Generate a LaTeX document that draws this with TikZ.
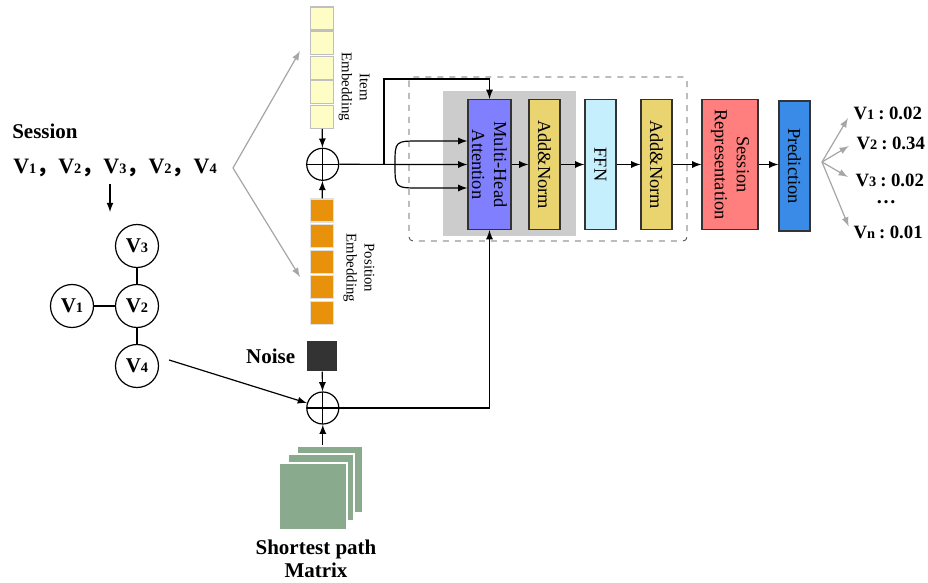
\documentclass[tikz,border=0pt]{standalone}
\usepackage{fontspec}
\setmainfont{Liberation Serif}
\newfontfamily\cjk{Noto Sans CJK SC}
\usetikzlibrary{positioning}

\definecolor{mhablue}{HTML}{8080FF}
\definecolor{addnorm}{HTML}{EAD46F}
\definecolor{ffncyan}{HTML}{C6EFFD}
\definecolor{sessred}{HTML}{FF7F7F}
\definecolor{predblue}{HTML}{3A8BE8}
\definecolor{itemyel}{HTML}{FFFDC6}
\definecolor{posorange}{HTML}{E8920C}
\definecolor{matgreen}{HTML}{8AAA8D}
\definecolor{bggray}{HTML}{CCCCCC}

% item label: bold V with a small digit on the baseline
\newcommand{\vn}[1]{V{\fontsize{7.2}{8}\selectfont #1}}
% full-width punctuation
\newcommand{\fw}[1]{{\cjk #1}}
% score line: item, colon, value
\newcommand{\score}[2]{\vn{#1}\kern2pt:\kern2.2pt#2}
% coloured block with rotated caption
\newcommand{\block}[6]{\node[blk,fill=#4,minimum width=#5] (#1) at (#2,#3) {};
  \node[rotate=-90,align=center,font=\fontsize{9.2}{11}\selectfont] at (#1) {#6};}

\tikzset{
  blk/.style={draw=black!80, minimum height=65pt, inner sep=0pt},
  cell/.style={draw, minimum size=11.5pt, inner sep=0pt},
  vert/.style={circle, draw, minimum size=21.5pt, inner sep=0pt, font=\bfseries\fontsize{10.5}{12}\selectfont},
  oplus/.style={circle, draw, minimum size=16pt, inner sep=0pt,
    path picture={\draw (path picture bounding box.north) -- (path picture bounding box.south)
      (path picture bounding box.west) -- (path picture bounding box.east);}},
  grayarr/.style={draw=black!35, fill=black!35, ->},
  outl/.style={anchor=west, inner sep=1pt, font=\bfseries\fontsize{9.4}{11}\selectfont},
  sidelbl/.style={rotate=-90, align=center, font=\fontsize{7.4}{9}\selectfont},
}

\begin{document}
\begin{tikzpicture}[x=0.5pt, y=-0.5pt, >=latex, semithick]
    \useasboundingbox (0,0) rectangle (928,583);

    % session and its graph
    \node[anchor=west, font=\bfseries\fontsize{10.5}{12}\selectfont] (sess) at (5,131) {Session};
    \node[anchor=west, font=\bfseries\fontsize{11}{13}\selectfont] (seq) at (6,168)
        {\vn1\fw{，}\vn2\fw{，}\vn3\fw{，}\vn2\fw{，}\vn4};
    \coordinate (gtop) at (110,212);
    \draw[->] (seq.south -| gtop) -- (gtop);
    \node[vert] (v3) at (137,246) {\vn3};
    \node[vert] (v2) at (137,306) {\vn2};
    \node[vert] (v1) at (72,306) {\vn1};
    \node[vert] (v4) at (137,366) {\vn4};
    \draw (v1) -- (v2) (v2) -- (v3) (v2) -- (v4);

    % embeddings
    \coordinate (fork) at (233,168); \coordinate (fkup) at (300,51); \coordinate (fkdn) at (300,277);
    \draw[grayarr] (fork) -- (fkup);
    \draw[grayarr] (fork) -- (fkdn);
    \foreach \i in {1,...,5} {
        \node[cell, draw=black!25, fill=itemyel] (item\i) at (322,{18.5+24.6*(\i-1)}) {};
        \node[cell, draw=black!12, fill=posorange] (pos\i) at (322,{210.5+25.6*(\i-1)}) {};
    }
    \node[sidelbl] at (354,87) {Item\\Embedding};
    \node[sidelbl] at (359,268) {Position\\Embedding};
    \node[oplus] (plus1) at (322.7,164.3) {};
    \draw[->] (item5) -- (plus1);
    \draw[->] (pos1) -- (plus1);

    % transformer layer
    \fill[bggray] (443,91) rectangle (576,236);
    \draw[dashed, thin, black!75, rounded corners=2pt] (409,77) rectangle (687,241);
    \block{mha}{489.5}{164.5}{mhablue}{21.5pt}{Multi-Head\\Attention}
    \block{an1}{544.5}{164.5}{addnorm}{15.5pt}{Add\&Norm}
    \block{ffn}{600.5}{164.5}{ffncyan}{15.5pt}{FFN}
    \block{an2}{656.5}{164.5}{addnorm}{15.5pt}{Add\&Norm}
    \block{rep}{730}{164.5}{sessred}{28pt}{Session\\Representation}
    \block{pred}{794.5}{166}{predblue}{15.5pt}{Prediction}

    \draw[->] (plus1) -- (mha.west);
    \coordinate (br) at (384,164.3); \coordinate (brtop) at (384,79);
    \draw[->] (br) -- (brtop) -| (mha.north);
    \coordinate (loop) at (395,164.3);
    \draw[->] (loop) .. controls (395,141) .. (420,141) -- ([yshift=11.75pt]mha.west);
    \draw[->] (loop) .. controls (395,188) .. (420,188) -- ([yshift=-11.75pt]mha.west);
    \draw[->] (mha) -- (an1);
    \draw[->] (an1) -- (ffn);
    \draw[->] (ffn) -- (an2);
    \draw[->] (an2) -- (rep);
    \draw[->] (rep) -- (pred.west |- rep);

    % scores
    \node[outl] (o1) at (851,113) {\score{1}{0.02}};
    \node[outl] (o2) at (854,143) {\score{2}{0.34}};
    \node[outl] (o3) at (853,180) {\score{3}{0.02}};
    \node[font=\bfseries, inner sep=0pt] (dots) at (886,202) {\dots};
    \node[outl] (o4) at (851,232) {\score{n}{0.01}};
    \coordinate (spread) at (822,162);
    \foreach \o in {o1,o2,o3,o4}
        \draw[grayarr, shorten >=3pt] (spread) -- (\o.west);

    % shortest path matrix with noise
    \node[fill=black!80, minimum size=15pt, inner sep=0pt] (noise) at (322,356) {};
    \node[left=2pt of noise, font=\bfseries\fontsize{10.5}{12}\selectfont] {Noise};
    \node[oplus] (plus2) at (322.8,408) {};
    \node[fill=matgreen, draw=white, minimum width=33pt, minimum height=33.5pt, inner sep=0pt] (mat3) at (330,479.5) {};
    \node[fill=matgreen, draw=white, minimum width=33pt, minimum height=33.5pt, inner sep=0pt] (mat2) at (321,487.5) {};
    \node[fill=matgreen, draw=white, minimum width=34pt, minimum height=33.5pt, inner sep=0pt] (mat1) at (313,496.5) {};
    \node[align=center, font=\bfseries\fontsize{10.5}{11.5}\selectfont] (matlbl) at (316,559) {Shortest path\\Matrix};
    \draw[->] (noise) -- (plus2);
    \draw[->] (plus2 |- mat3.north) -- (plus2);
    \draw[->] ([shift={(10,-6)}]v4.east) -- (plus2);
    \draw[->] (plus2) -| (mha.south);
\end{tikzpicture}
\end{document}
